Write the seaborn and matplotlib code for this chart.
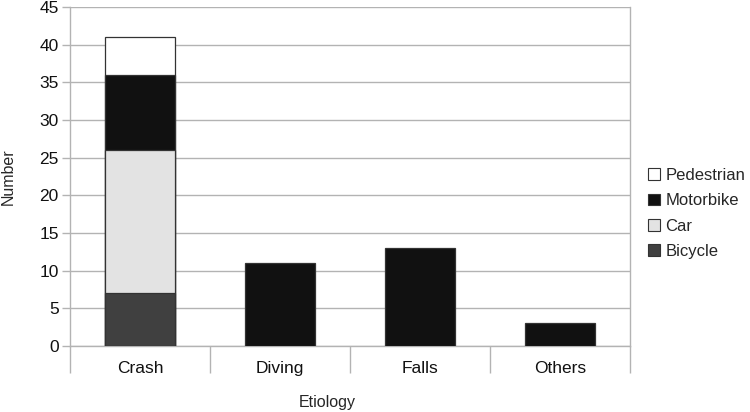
import matplotlib
matplotlib.use("Agg")
import matplotlib.pyplot as plt
from matplotlib.patches import Patch
import seaborn as sns
import pandas as pd

categories = ["Crash", "Diving", "Falls", "Others"]
types = ["Bicycle", "Car", "Motorbike", "Pedestrian"]
bicycle = [7, 0, 0, 0]
car = [19, 0, 0, 0]
motorbike = [10, 11, 13, 3]
pedestrian = [5, 0, 0, 0]
colors = {"Bicycle": "#404040", "Car": "#e3e3e3", "Motorbike": "#111111", "Pedestrian": "#ffffff"}

rows = []
for t, vals in zip(types, [bicycle, car, motorbike, pedestrian]):
    for c, v in zip(categories, vals):
        rows.append({"Etiology": c, "Type": t, "Number": v})
df = pd.DataFrame(rows)
df["Etiology"] = pd.Categorical(df["Etiology"], categories=categories, ordered=True)
df["Type"] = pd.Categorical(df["Type"], categories=types, ordered=True)

sns.set_style("white")
plt.rcParams["font.family"] = ["Liberation Sans", "DejaVu Sans"]

fig = plt.figure(figsize=(7.5, 4.12), dpi=100)
ax = fig.add_axes([0.0933, 0.160, 0.7467, 0.823])

# cumulative stacks: each layer drawn as bar up to its cumulative top
pivot = df.pivot_table(index="Etiology", columns="Type", values="Number", observed=False)
bottom = pd.Series(0.0, index=categories)
for t in types:
    vals = pivot[t].reindex(categories)
    sub = pd.DataFrame({"Etiology": categories, "Number": vals.values, "base": bottom.values})
    sub = sub[sub["Number"] > 0]
    sns.barplot(data=sub.assign(top=sub["Number"] + sub["base"]), x="Etiology", y="top",
                order=categories, color=colors[t], width=0.5, edgecolor="#333333",
                linewidth=0.9, saturation=1, ax=ax)
    bottom = bottom + vals.values

# lower cumulative tops drawn above taller ones
for p in ax.patches:
    p.set_zorder(10 - p.get_height() / 100.0)

ax.set_xlim(-0.5, 3.5)
ax.set_ylim(0, 45)
ax.set_yticks(range(0, 46, 5))
ax.yaxis.grid(True, color="#b3b3b3", linewidth=1)
ax.set_axisbelow(True)
for s in ["left", "right", "bottom", "top"]:
    ax.spines[s].set_color("#b3b3b3")
    ax.spines[s].set_linewidth(1)
ax.spines["top"].set_visible(False)

ax.set_xticks(range(4))
ax.set_xticklabels(categories)
ax.set_xticks([-0.5, 0.5, 1.5, 2.5, 3.5], minor=True)
ax.tick_params(axis="x", which="both", bottom=True)
ax.tick_params(axis="y", which="major", left=True)
ax.tick_params(axis="x", which="major", length=0, pad=11, labelsize=12.5, labelcolor="#111111")
ax.tick_params(axis="x", which="minor", length=19.5, width=1, color="#b3b3b3", direction="out")
ax.tick_params(axis="y", which="major", length=6, width=1, color="#b3b3b3", labelsize=12.5,
               labelcolor="#111111", pad=2)
ax.set_xlabel("Etiology", fontsize=11.5)
ax.set_ylabel("Number", fontsize=11.5)
ax.xaxis.set_label_coords(0.46, -0.145)
ax.yaxis.set_label_coords(-0.097, 0.5)

handles = [Patch(facecolor=colors[t], edgecolor="#333333", linewidth=0.8, label=t)
           for t in ["Pedestrian", "Motorbike", "Car", "Bicycle"]]
fig.legend(handles=handles, loc="center left", bbox_to_anchor=(0.855, 0.482), frameon=False,
           fontsize=12, handlelength=0.7, handleheight=0.7, handletextpad=0.35,
           labelspacing=0.62, borderaxespad=0)

fig.savefig("out.png", dpi=100)
